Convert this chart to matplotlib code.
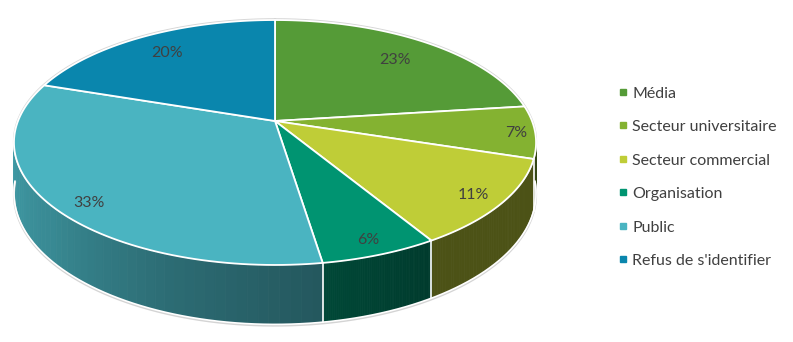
import matplotlib.pyplot as plt
import numpy as np
from matplotlib.patches import Polygon
from matplotlib.lines import Line2D

categories = ["Média", "Secteur universitaire", "Secteur commercial",
              "Organisation", "Public", "Refus de s'identifier"]
# shares (the labels are rounded)
shares = [23.0, 6.9, 11.45, 6.2, 32.6, 19.85]
pct_labels = ["23%", "7%", "11%", "6%", "33%", "20%"]
colors = ["#559B37", "#84B231", "#BFCD37", "#009471", "#4AB4C1", "#0A86AD"]

# pie geometry in pixel units (793x342 figure at 100 dpi)
CX, CY = 275, 121
RX, RY = 257, 118.7
PERSP = 0.1755
DEPTH = 49
label_r = [0.78, 0.93, 0.89, 0.9, 0.885, 0.8]
label_turn = [0, 0, 0, 0, -3, 0]  # degrees


def project(theta, r=1.0):
    u = r * np.sin(theta)
    v = -r * np.cos(theta)
    d = 1 - PERSP * v
    return CX + RX * u / d, CY + RY * v / d


def drop(theta):
    v = -np.cos(theta)
    return DEPTH / (1 - PERSP * v)


def shade(hex_color, theta):
    deg = np.degrees(theta) % 360
    f = np.interp(deg, [100, 150, 175, 200, 230, 265], [0.40, 0.40, 0.50, 0.60, 0.76, 0.88])
    rgb = np.array([int(hex_color[i:i + 2], 16) for i in (1, 3, 5)]) / 255
    return tuple(np.clip(rgb * f, 0, 1))


plt.rcParams["font.family"] = ["Lato", "DejaVu Sans"]
fig = plt.figure(figsize=(7.93, 3.42), dpi=100)
ax = fig.add_axes([0, 0, 1, 1])
ax.set_xlim(0, 793)
ax.set_ylim(342, 0)
ax.axis("off")

fracs = np.array(shares) / sum(shares)
edges = np.concatenate([[0], np.cumsum(fracs)]) * 2 * np.pi

# side walls, back to front
segs = []
for i in range(len(shares)):
    t = np.linspace(edges[i], edges[i + 1], 60)
    for a, b in zip(t[:-1], t[1:]):
        xa, ya = project(a)
        xb, yb = project(b)
        poly = [(xa, ya), (xb, yb), (xb, yb + drop(b)), (xa, ya + drop(a))]
        m = (a + b) / 2
        segs.append((-np.cos(m), poly, shade(colors[i], m)))
segs.sort(key=lambda s: s[0])
for _, poly, c in segs:
    ax.add_patch(Polygon(poly, closed=True, facecolor=c, edgecolor=c, linewidth=0.6))

# outline of the side (front part only)
tf = np.linspace(np.radians(95), np.radians(265), 200)
xf, yf = project(tf)
ax.plot(xf, yf + drop(tf) + 1.2, color="#d4d4d4", linewidth=1.5, zorder=2)
ax.plot(xf, yf + drop(tf), color="white", linewidth=1.2, zorder=3)

# vertical edges on the visible side
for a in edges[:-1]:
    if -np.cos(a) > PERSP:
        x0, y0 = project(a)
        ax.plot([x0, x0], [y0, y0 + drop(a)], color="white", linewidth=1.2, zorder=3)

# faint shadow along the top rim
tr = np.linspace(0, 2 * np.pi, 400)
xr, yr = project(tr)
ax.plot(xr, yr - 0.8, color="#d6d6d6", linewidth=1.5, zorder=3)

# top faces
for i in range(len(shares)):
    t = np.linspace(edges[i], edges[i + 1], 80)
    xs, ys = project(t)
    pts = [(CX, CY)] + list(zip(xs, ys))
    ax.add_patch(Polygon(pts, closed=True, facecolor=colors[i], edgecolor="white",
                         linewidth=1.3, joinstyle="round", zorder=4))

# percentage labels
for i in range(len(shares)):
    m = (edges[i] + edges[i + 1]) / 2 + np.radians(label_turn[i])
    lx, ly = project(m, label_r[i])
    ax.text(lx, ly, pct_labels[i], ha="center", va="center_baseline", fontsize=11.5,
            color="#404040", zorder=5)

handles = [Line2D([], [], marker="s", linestyle="", color=c, markersize=4.5) for c in colors]
fig.legend(handles, categories, loc="upper left", bbox_to_anchor=(602 / 793, 1 - 72 / 342),
           frameon=False, fontsize=11.5, labelcolor="#404040", handlelength=0.8,
           handletextpad=0.2, labelspacing=1.21)

fig.savefig("out.png", dpi=100)
